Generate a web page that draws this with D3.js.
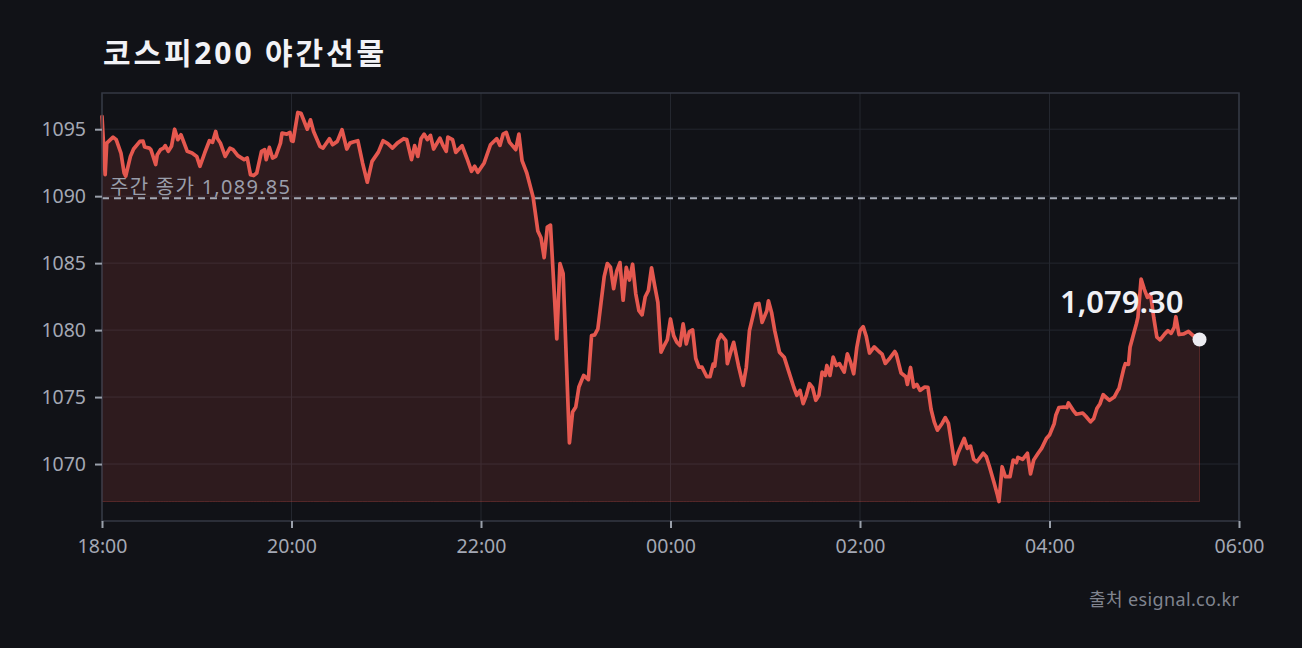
<!DOCTYPE html>
<html lang="ko">
<head>
<meta charset="utf-8">
<script src="https://cdn.jsdelivr.net/npm/d3@7"></script>
<style>
html, body { margin: 0; padding: 0; background: #111217; }
svg { display: block; }
text { font-family: "Noto Sans", "Noto Sans CJK KR", sans-serif; }
</style>
</head>
<body>
<svg id="chart"></svg>
<script>
// minutes after 18:00 and the price read at that moment
const minutes = [
  0, 2, 3, 7, 9, 12, 14, 15, 18, 20, 24, 26, 27, 30, 31, 34, 35, 37, 39, 40,
  42, 44, 46, 48, 50, 54, 57, 60, 62, 65, 68, 70, 72, 73, 75, 78, 81, 83, 86, 90,
  92, 94, 96, 98, 101, 103, 104, 106, 108, 110, 113, 114, 117, 119, 120, 121, 124, 126, 130, 132,
  134, 138, 140, 144, 146, 149, 152, 155, 157, 159, 162, 165, 168, 171, 175, 178, 181, 184, 187, 191,
  193, 196, 198, 200, 202, 204, 206, 208, 210, 214, 216, 218, 219, 222, 224, 228, 231, 234, 236, 238,
  242, 246, 250, 252, 254, 256, 258, 262, 264, 266, 269, 273, 276, 278, 280, 282, 284, 288, 290, 292,
  296, 298, 300, 302, 305, 308, 310, 312, 314, 318, 320, 322, 324, 326, 328, 330, 332, 334, 336, 338,
  340, 342, 344, 346, 348, 350, 352, 354, 356, 358, 360, 362, 364, 366, 368, 370, 372, 374, 376, 378,
  380, 383, 385, 387, 388, 390, 392, 395, 396, 399, 400, 403, 406, 408, 410, 414, 416, 418, 421, 422,
  424, 426, 429, 432, 435, 438, 440, 442, 444, 446, 448, 450, 452, 454, 456, 458, 459, 461, 463, 465,
  467, 470, 472, 474, 476, 478, 480, 482, 484, 486, 489, 492, 494, 496, 499, 502, 503, 506, 509, 510,
  512, 514, 516, 518, 521, 523, 525, 527, 529, 532, 534, 536, 540, 542, 546, 548, 550, 552, 554, 558,
  560, 562, 565, 567, 568, 570, 572, 575, 577, 579, 580, 583, 586, 588, 590, 593, 595, 598, 600, 603,
  604, 606, 609, 611, 612, 615, 617, 621, 623, 626, 628, 630, 632, 634, 635, 638, 641, 643, 644, 647,
  648, 650, 651, 653, 655, 656, 658, 660, 662, 664, 666, 668, 670, 673, 675, 677, 679, 680, 682, 685,
  688, 691, 695
];
const prices = [
  1095.95, 1091.61, 1093.96, 1094.41, 1094.22, 1093.22, 1091.73, 1091.49, 1092.97, 1093.52,
  1094.09, 1094.11, 1093.67, 1093.59, 1093.47, 1092.36, 1093.10, 1093.47, 1093.59, 1093.77,
  1093.35, 1093.72, 1095.00, 1094.22, 1094.59, 1093.35, 1093.22, 1092.97, 1092.23, 1093.22,
  1094.14, 1094.02, 1094.83, 1094.33, 1093.96, 1092.97, 1093.59, 1093.47, 1093.03, 1092.73,
  1092.85, 1091.61, 1091.54, 1091.73, 1093.35, 1093.47, 1092.73, 1093.64, 1092.85, 1092.97,
  1093.96, 1094.71, 1094.63, 1094.76, 1094.14, 1094.09, 1096.25, 1096.19, 1095.00, 1095.70,
  1094.83, 1093.72, 1093.59, 1094.29, 1093.84, 1094.09, 1094.96, 1093.52, 1093.96, 1094.04,
  1094.14, 1092.48, 1091.04, 1092.60, 1093.29, 1094.14, 1093.92, 1093.59, 1093.96, 1094.29,
  1094.22, 1092.73, 1093.77, 1092.97, 1094.29, 1094.63, 1094.22, 1094.54, 1093.52, 1094.33,
  1093.77, 1093.35, 1094.41, 1094.22, 1093.27, 1093.77, 1092.85, 1091.86, 1092.23, 1091.78,
  1092.48, 1093.84, 1094.29, 1093.79, 1094.63, 1094.76, 1094.04, 1093.47, 1094.63, 1092.65,
  1091.73, 1089.93, 1087.40, 1086.90, 1085.41, 1087.70, 1087.84, 1079.35, 1084.97, 1084.22,
  1071.58, 1073.89, 1074.26, 1075.75, 1076.62, 1076.30, 1079.59, 1079.64, 1080.09, 1083.99,
  1084.97, 1084.70, 1083.09, 1084.42, 1085.04, 1082.23, 1084.68, 1083.74, 1084.92, 1082.71,
  1081.45, 1081.14, 1082.49, 1082.96, 1084.65, 1083.31, 1082.07, 1078.35, 1078.85, 1079.29,
  1080.83, 1079.59, 1079.09, 1078.85, 1080.46, 1078.97, 1079.89, 1080.02, 1077.88, 1077.23,
  1077.23, 1076.52, 1076.52, 1077.46, 1077.32, 1079.22, 1079.67, 1079.22, 1077.49, 1078.72,
  1079.09, 1077.36, 1075.87, 1077.23, 1079.96, 1081.95, 1081.99, 1080.58, 1081.45, 1082.19,
  1081.32, 1079.96, 1078.35, 1077.98, 1076.86, 1075.75, 1075.13, 1075.50, 1074.51, 1075.13,
  1076.00, 1075.70, 1074.76, 1075.13, 1076.86, 1076.62, 1077.36, 1076.62, 1077.98, 1077.36,
  1077.49, 1076.86, 1078.23, 1077.61, 1076.74, 1078.72, 1079.96, 1080.26, 1079.52, 1078.29,
  1078.75, 1078.40, 1078.20, 1077.51, 1077.92, 1078.40, 1078.20, 1076.80, 1076.52, 1075.95,
  1077.21, 1075.75, 1075.95, 1075.50, 1075.75, 1075.73, 1074.09, 1073.15, 1072.53, 1073.03,
  1073.47, 1073.03, 1070.00, 1070.80, 1071.91, 1071.17, 1071.34, 1070.35, 1070.17, 1070.80,
  1070.54, 1069.80, 1068.56, 1067.70, 1067.20, 1069.80, 1069.06, 1069.06, 1070.30, 1070.10,
  1070.50, 1070.35, 1070.80, 1069.26, 1070.30, 1070.84, 1071.17, 1071.90, 1072.16, 1073.03,
  1073.64, 1074.22, 1074.26, 1074.22, 1074.56, 1074.01, 1073.72, 1073.81, 1073.57, 1073.15,
  1073.40, 1074.14, 1074.51, 1075.18, 1075.06, 1074.76, 1075.00, 1075.45, 1075.63, 1077.12,
  1077.49, 1077.44, 1078.72, 1079.59, 1080.46, 1080.95, 1083.81, 1083.06, 1082.44, 1082.69,
  1080.95, 1079.47, 1079.27, 1079.72, 1079.96, 1079.76, 1080.21, 1081.00, 1079.67, 1079.72,
  1079.91, 1079.59, 1079.30
];
const yTicks = [1070, 1075, 1080, 1085, 1090, 1095];
const xTickLabels = ["18:00", "20:00", "22:00", "00:00", "02:00", "04:00", "06:00"];
const dayClose = 1089.85;
const title = "코스피200 야간선물";
const dayCloseLabel = "주간 종가";
const source = "출처 esignal.co.kr";

const width = 1302;
const height = 648;
const margin = {top: 93, right: 63, bottom: 127, left: 102};
const w = width - margin.left - margin.right;
const h = height - margin.top - margin.bottom;

// hangul in the CJK face, latin and digits in Noto Sans
function mixedText(sel, str) {
    const runs = str.match(/[\uAC00-\uD7A3]+|[^\uAC00-\uD7A3]+/g);
    runs.forEach(r => {
        sel.append("tspan")
            .attr("font-family", /[\uAC00-\uD7A3]/.test(r) ? "'Noto Sans CJK KR'" : "'Noto Sans'")
            .text(r);
    });
    return sel;
}

const svg = d3.select("#chart")
    .attr("width", width)
    .attr("height", height);

svg.append("rect")
    .attr("width", width)
    .attr("height", height)
    .attr("fill", "#111217");

const base = new Date(2024, 0, 1, 18, 0);
const data = minutes.map((m, i) => ({t: d3.timeMinute.offset(base, m), v: prices[i]}));

const x = d3.scaleTime()
    .domain([base, d3.timeHour.offset(base, 12)])
    .range([0, w]);

const [lo, hi] = d3.extent(prices);
const pad = (hi - lo) * 0.05;
const y = d3.scaleLinear()
    .domain([lo - pad, hi + pad])
    .range([h, 0]);

const xTickValues = xTickLabels.map((s, i) => d3.timeHour.offset(base, i * 2));

const g = svg.append("g").attr("transform", `translate(${margin.left},${margin.top})`);

// grid
g.append("g").selectAll("line")
    .data(yTicks)
    .enter().append("line")
    .attr("x1", 0).attr("x2", w)
    .attr("y1", d => y(d)).attr("y2", d => y(d))
    .attr("stroke", "#24272f")
    .attr("stroke-width", 1);

g.append("g").selectAll("line")
    .data(xTickValues)
    .enter().append("line")
    .attr("x1", d => x(d)).attr("x2", d => x(d))
    .attr("y1", 0).attr("y2", h)
    .attr("stroke", "#24272f")
    .attr("stroke-width", 1);

// area + line
const area = d3.area()
    .x(d => x(d.t))
    .y0(y(lo))
    .y1(d => y(d.v));

const line = d3.line()
    .x(d => x(d.t))
    .y(d => y(d.v));

g.append("path")
    .datum(data)
    .attr("d", area)
    .attr("fill", "rgba(229, 87, 79, 0.14)")
    .attr("stroke", "rgba(229, 87, 79, 0.28)")
    .attr("stroke-width", 1);

// day close reference
g.append("line")
    .attr("x1", 0).attr("x2", w)
    .attr("y1", y(dayClose)).attr("y2", y(dayClose))
    .attr("stroke", "#a3a8b4")
    .attr("stroke-width", 2)
    .attr("stroke-dasharray", "7,5");

mixedText(g.append("text")
    .attr("x", 8)
    .attr("y", y(dayClose) - 4)
    .attr("fill", "#9a9eaa")
    .attr("font-size", 20)
    .attr("textLength", 180)
    .attr("lengthAdjust", "spacing"), `${dayCloseLabel} ${d3.format(",.2f")(dayClose)}`);

g.append("path")
    .datum(data)
    .attr("d", line)
    .attr("fill", "none")
    .attr("stroke", "#e5584f")
    .attr("stroke-width", 3.7)
    .attr("stroke-linejoin", "round")
    .attr("stroke-linecap", "round");

// frame
g.append("rect")
    .attr("width", w)
    .attr("height", h)
    .attr("fill", "none")
    .attr("stroke", "#353944")
    .attr("stroke-width", 1.5);

// axes
const yAxis = g.append("g")
    .call(d3.axisLeft(y).tickValues(yTicks).tickFormat(d3.format("d")).tickSize(7).tickPadding(9));
const xAxis = g.append("g")
    .attr("transform", `translate(0,${h})`)
    .call(d3.axisBottom(x).tickValues(xTickValues).tickFormat((d, i) => xTickLabels[i]).tickSize(7).tickPadding(11));

[yAxis, xAxis].forEach(ax => {
    ax.select(".domain").remove();
    ax.selectAll(".tick line").attr("stroke", "#9aa0ab").attr("stroke-width", 2);
    ax.selectAll(".tick text")
        .attr("fill", "#a4a8b4")
        .attr("font-size", 19.5)
        .attr("font-family", "'Noto Sans', 'Noto Sans CJK KR', sans-serif");
});

// last value
const last = data[data.length - 1];
g.append("circle")
    .attr("cx", x(last.t))
    .attr("cy", y(last.v))
    .attr("r", 7)
    .attr("fill", "#ececf1");

g.append("text")
    .attr("x", x(last.t) - 16)
    .attr("y", y(last.v) - 26)
    .attr("text-anchor", "end")
    .attr("fill", "#f0f0f4")
    .attr("font-size", 31)
    .attr("font-weight", 600)
    .text(d3.format(",.2f")(last.v));

// title and source
mixedText(svg.append("text")
    .attr("x", 103)
    .attr("y", 64)
    .attr("fill", "#f2f2f6")
    .attr("font-size", 30)
    .attr("font-weight", 700)
    .attr("textLength", 281)
    .attr("lengthAdjust", "spacing"), title);

mixedText(svg.append("text")
    .attr("x", margin.left + w)
    .attr("y", 606)
    .attr("text-anchor", "end")
    .attr("fill", "#80848f")
    .attr("font-size", 18)
    .attr("textLength", 150)
    .attr("lengthAdjust", "spacing"), source);
</script>
</body>
</html>
